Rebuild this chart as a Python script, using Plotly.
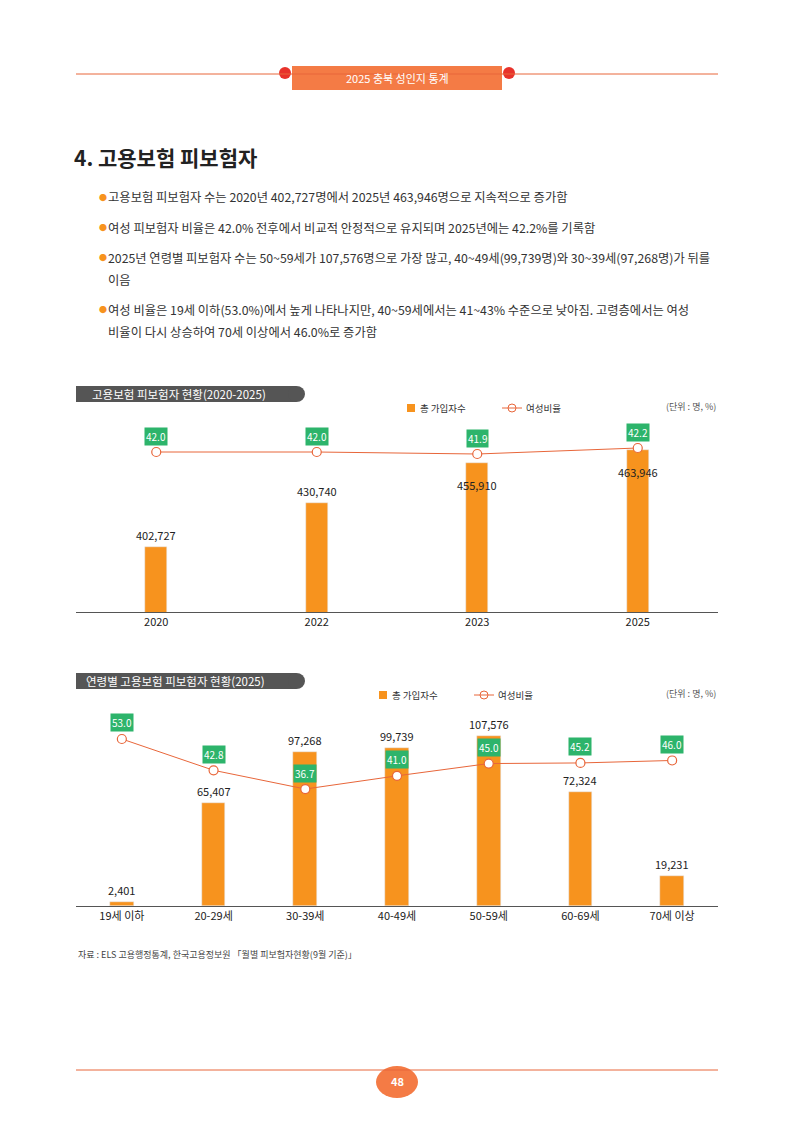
import plotly.graph_objects as go

W, H = 794, 1123
FONT = "Noto Sans CJK KR"
ORANGE = "#F7931E"
LINE = "#E8663A"
GREEN = "#2DB46B"

years = ["2020", "2022", "2023", "2025"]
total1 = [402727, 430740, 455910, 463946]
ratio1 = [42.0, 42.0, 41.9, 42.2]
lab_shift1 = [12, 12, -22, -22]

ages = ["19세 이하", "20-29세", "30-39세", "40-49세", "50-59세", "60-69세", "70세 이상"]
total2 = [2401, 65407, 97268, 99739, 107576, 72324, 19231]
ratio2 = [53.0, 42.8, 36.7, 41.0, 45.0, 45.2, 46.0]

OFF = 8  # page body margin
def px(x): return (x - OFF) / W
def py(y): return 1 - (y - OFF) / H

fig = go.Figure()
fig.add_trace(go.Bar(x=years, y=total1, marker_color=ORANGE, width=0.14, xaxis="x", yaxis="y", showlegend=False))
fig.add_trace(go.Scatter(x=years, y=ratio1, mode="lines+markers", line=dict(color=LINE, width=1),
                         marker=dict(size=9, color="white", line=dict(color=LINE, width=1.2)),
                         xaxis="x", yaxis="y2", showlegend=False))
fig.add_trace(go.Bar(x=ages, y=total2, marker_color=ORANGE, width=0.26, xaxis="x3", yaxis="y3", showlegend=False))
fig.add_trace(go.Scatter(x=ages, y=ratio2, mode="lines+markers", line=dict(color=LINE, width=1),
                         marker=dict(size=9, color="white", line=dict(color=LINE, width=1.2)),
                         xaxis="x3", yaxis="y4", showlegend=False))

ann = []
for i, v in enumerate(total1):
    ann.append(dict(x=i, y=v, xref="x", yref="y", text=f"{v:,}", showarrow=False,
                    yshift=lab_shift1[i], font=dict(size=11, color="#222", family=FONT)))
for i, v in enumerate(ratio1):
    ann.append(dict(x=i, y=v, xref="x", yref="y2", text=f"{v:.1f}", showarrow=False, yshift=16,
                    bgcolor=GREEN, borderpad=1, font=dict(size=10, color="white", family=FONT)))
for i, v in enumerate(total2):
    ann.append(dict(x=i, y=v, xref="x3", yref="y3", text=f"{v:,}", showarrow=False, yshift=12,
                    font=dict(size=11, color="#222", family=FONT)))
for i, v in enumerate(ratio2):
    ann.append(dict(x=i, y=v, xref="x3", yref="y4", text=f"{v:.1f}", showarrow=False, yshift=16,
                    bgcolor=GREEN, borderpad=1, font=dict(size=10, color="white", family=FONT)))

def T(x, y, t, size=12, color="#333", xa="left", bold=False):
    ann.append(dict(x=px(x), y=py(y), xref="paper", yref="paper", text=(f"<b>{t}</b>" if bold else t),
                    showarrow=False, xanchor=xa, yanchor="middle", font=dict(size=size, color=color, family=FONT)))

T(397, 78, "2025 충북 성인지 통계", 11, "white", "center")
T(72, 157, "4. 고용보험 피보험자", 21, "#222", bold=True)
bullets = [
    (197, "고용보험 피보험자 수는 2020년 402,727명에서 2025년 463,946명으로 지속적으로 증가함"),
    (228, "여성 피보험자 비율은 42.0% 전후에서 비교적 안정적으로 유지되며 2025년에는 42.2%를 기록함"),
    (258, "2025년 연령별 피보험자 수는 50~59세가 107,576명으로 가장 많고, 40~49세(99,739명)와 30~39세(97,268명)가 뒤를"),
    (280, "이음"),
    (310, "여성 비율은 19세 이하(53.0%)에서 높게 나타나지만, 40~59세에서는 41~43% 수준으로 낮아짐. 고령층에서는 여성"),
    (332, "비율이 다시 상승하여 70세 이상에서 46.0%로 증가함"),
]
for y, t in bullets:
    T(106, y, t, 12.3, "#333")
for y in [197, 228, 258, 310]:
    T(97, y, "●", 8, ORANGE)
T(90, 394, "고용보험 피보험자 현황(2020-2025)", 11.5, "white")
T(84, 681, "연령별 고용보험 피보험자 현황(2025)", 11.5, "white")
for yy in [408, 695]:
    T(718, yy - 2, "(단위 : 명, %)", 9, "#555", "right")
T(418, 408, "총 가입자수", 9.5, "#333")
T(524, 408, "여성비율", 9.5, "#333")
T(390, 695, "총 가입자수", 9.5, "#333")
T(496, 695, "여성비율", 9.5, "#333")
T(76, 954, "자료 : ELS 고용행정통계, 한국고용정보원 「월별 피보험자현황(9월 기준)」", 9, "#444")
T(397, 1081, "<b>48</b>", 11, "white", "center")

shapes = []
def R(x0, y0, x1, y1, color, kind="rect", line=None):
    shapes.append(dict(type=kind, xref="paper", yref="paper", x0=px(x0), x1=px(x1), y0=py(y1), y1=py(y0),
                       fillcolor=color, line=dict(width=0) if line is None else line, layer="below"))
shapes.append(dict(type="line", xref="paper", yref="paper", x0=px(76), x1=px(718), y0=py(74), y1=py(74),
                   line=dict(color=LINE, width=1)))
R(279, 67, 291, 79, "#E8322B", "circle")
R(503, 67, 515, 79, "#E8322B", "circle")
R(292, 66, 502, 90, "#F47B45")
for y0 in [386, 673]:
    R(76, y0, 296, y0 + 16, "#555555")
    R(288, y0, 305, y0 + 16, "#555555", "circle")
for lx, ly in [(407, 408), (379, 695)]:
    R(lx, ly - 4, lx + 8, ly + 4, ORANGE)
    shapes.append(dict(type="line", xref="paper", yref="paper", x0=px(lx + 95), x1=px(lx + 115),
                       y0=py(ly), y1=py(ly), line=dict(color=LINE, width=1)))
    R(lx + 101, ly - 4, lx + 109, ly + 4, "white", "circle", dict(color=LINE, width=1))
shapes.append(dict(type="line", xref="paper", yref="paper", x0=px(76), x1=px(718), y0=py(1070), y1=py(1070),
                   line=dict(color=LINE, width=1)))
R(376, 1066, 418, 1098, "#F47B45", "circle")

ax = dict(type="category", showgrid=False, zeroline=False, showline=True, linecolor="#555", linewidth=1, ticks="",
          tickfont=dict(size=11, color="#222", family=FONT), fixedrange=True)
hid = dict(visible=False, fixedrange=True)
fig.update_layout(
    width=W, height=H, margin=dict(l=0, r=0, t=0, b=0), paper_bgcolor="white", plot_bgcolor="white",
    bargap=0, annotations=ann, shapes=shapes,
    xaxis=dict(ax, domain=[px(76), px(718)], anchor="y", range=[-0.5, 3.5]),
    yaxis=dict(hid, domain=[py(612), py(420)], range=[361700, 482850]),
    yaxis2=dict(hid, domain=[py(612), py(420)], range=[34, 43.6], overlaying="y"),
    xaxis3=dict(ax, domain=[px(76), px(718)], anchor="y3", range=[-0.5, 6.5]),
    yaxis3=dict(hid, domain=[py(906), py(700)], range=[0, 130400]),
    yaxis4=dict(hid, domain=[py(906), py(700)], range=[-1.4, 65.7], overlaying="y3"),
)
fig.write_html("out.html")
